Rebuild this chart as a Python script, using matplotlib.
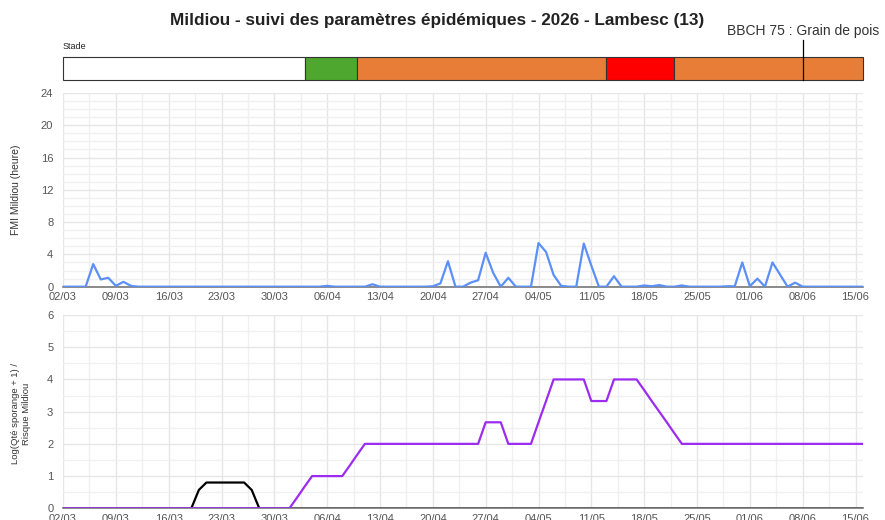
import numpy as np
import pandas as pd
import matplotlib
matplotlib.use("Agg")
import matplotlib.pyplot as plt
import matplotlib.dates as mdates
from matplotlib.ticker import MultipleLocator

plt.rcParams['font.family'] = ['Liberation Sans', 'DejaVu Sans']

start = "2026-03-02"
days = pd.date_range(start, periods=107, freq="D")

# FMI Mildiou (heure), one value per day from 02/03
fmi = [0, 0, 0, 0, 2.8, 0.9, 1.1, 0.1, 0.6, 0.1,
       0, 0, 0, 0, 0, 0, 0, 0, 0, 0,
       0, 0, 0, 0, 0, 0, 0, 0, 0, 0,
       0, 0, 0, 0, 0, 0.1, 0, 0, 0, 0,
       0, 0.3, 0, 0, 0, 0, 0, 0, 0, 0.05,
       0.4, 3.15, 0, 0, 0.5, 0.8, 4.2, 1.7, 0, 1.1,
       0, 0, 0, 5.4, 4.3, 1.45, 0.1, 0, 0, 5.35,
       2.6, 0, 0, 1.3, 0, 0, 0, 0.15, 0.05, 0.2,
       0, 0, 0.15, 0, 0, 0, 0, 0, 0.05, 0.05,
       3.0, 0.05, 1.0, 0, 3.0, 1.5, 0, 0.5, 0, 0,
       0, 0, 0, 0, 0, 0, 0]

# Log(Qté sporange + 1)
sporange = [0] * 18 + [0.57, 0.8, 0.8, 0.8, 0.8, 0.8, 0.8, 0.57] + [0] * 81

# Risque Mildiou
risque = ([0] * 31 + [0.33, 0.67, 1, 1, 1, 1, 1, 1.33, 1.67]
          + [2] * 16 + [2.67, 2.67, 2.67] + [2, 2, 2, 2]
          + [2.67, 3.33, 4, 4, 4, 4, 4, 3.33, 3.33, 3.33, 4, 4, 4, 4]
          + [3.67, 3.33, 3.0, 2.67, 2.33] + [2] * 25)

# stades phénologiques (début, fin, couleur)
stade_debut = ["2026-03-02", "2026-04-03", "2026-04-10", "2026-05-13", "2026-05-22"]
stade_fin = ["2026-04-03", "2026-04-10", "2026-05-13", "2026-05-22", "2026-06-16"]
stade_couleur = ["white", "#4ea72e", "#e87d37", "#ff0000", "#e87d37"]
bbch_date = "2026-06-08"
bbch_label = "BBCH 75 : Grain de pois"

xmin = pd.Timestamp("2026-03-02")
xmax = pd.Timestamp("2026-06-16")
ticks = pd.date_range(start, "2026-06-15", freq="7D")
minor_ticks = ticks + pd.Timedelta(hours=84)
minor_ticks = minor_ticks[minor_ticks < xmax]

fig = plt.figure(figsize=(8.85, 5.2), dpi=100)

fig.text(0.494, 0.961, "Mildiou - suivi des paramètres épidémiques - 2026 - Lambesc (13)",
         ha="center", va="center", fontsize=12.3, fontweight="bold", color="#222222")

# bandeau des stades
ax0 = fig.add_axes([0.0712, 0.846, 0.904, 0.0442])
for d0, d1, c in zip(stade_debut, stade_fin, stade_couleur):
    a = mdates.date2num(pd.Timestamp(d0))
    b = mdates.date2num(pd.Timestamp(d1))
    ax0.barh(0.5, b - a, left=a, height=1, color=c, edgecolor="#333333",
             linewidth=0.8, clip_on=False)
ax0.set_xlim(xmin, xmax)
ax0.set_ylim(0, 1)
ax0.axis("off")
bx = pd.Timestamp(bbch_date)
ax0.plot([bx, bx], [0, 1.75], color="black", linewidth=0.9, clip_on=False)
ax0.text(bx, 2.12, bbch_label, ha="center", va="center", fontsize=10, color="#333333")
ax0.text(xmin, 1.25, "Stade", ha="left", va="bottom", fontsize=6.5, color="#222222")


def style(ax, major, minor, top):
    ax.set_xticks(ticks)
    ax.set_xticks(minor_ticks, minor=True)
    ax.set_xlim(xmin, xmax)
    ax.set_ylim(0, top)
    ax.xaxis.set_major_formatter(mdates.DateFormatter("%d/%m"))
    ax.yaxis.set_major_locator(MultipleLocator(major))
    ax.yaxis.set_minor_locator(MultipleLocator(minor))
    ax.grid(which="major", color="#e6e6e6", linewidth=1)
    ax.grid(which="minor", color="#f0f0f0", linewidth=1)
    ax.set_axisbelow(True)
    for s in ["top", "right", "left"]:
        ax.spines[s].set_visible(False)
    ax.spines["bottom"].set_color("#777777")
    ax.spines["bottom"].set_linewidth(1.2)
    ax.tick_params(which="both", length=0, labelsize=8, colors="#555555")
    ax.tick_params(axis="x", pad=4)
    ax.tick_params(axis="y", pad=7)


ax1 = fig.add_axes([0.0712, 0.4487, 0.904, 0.3725])
style(ax1, 4, 1, 24)
ax1.plot(days, fmi, color="#5b8ff9", linewidth=1.6, zorder=3)
ax1.set_ylabel("FMI Mildiou (heure)", fontsize=7.5, color="#333333")
ax1.yaxis.set_label_coords(-0.0525, 0.5)

ax2 = fig.add_axes([0.0712, 0.0225, 0.904, 0.3717])
style(ax2, 1, 0.5, 6)
ax2.plot(days, sporange, color="black", linewidth=1.6, zorder=2)
ax2.plot(days, risque, color="#9b2cf0", linewidth=1.6, zorder=3)
ax2.set_ylabel("Log(Qté sporange + 1) /\nRisque Mildiou", fontsize=6.8, color="#333333",
               linespacing=1.25)
ax2.yaxis.set_label_coords(-0.04, 0.49)

fig.savefig("out.png", dpi=100)
